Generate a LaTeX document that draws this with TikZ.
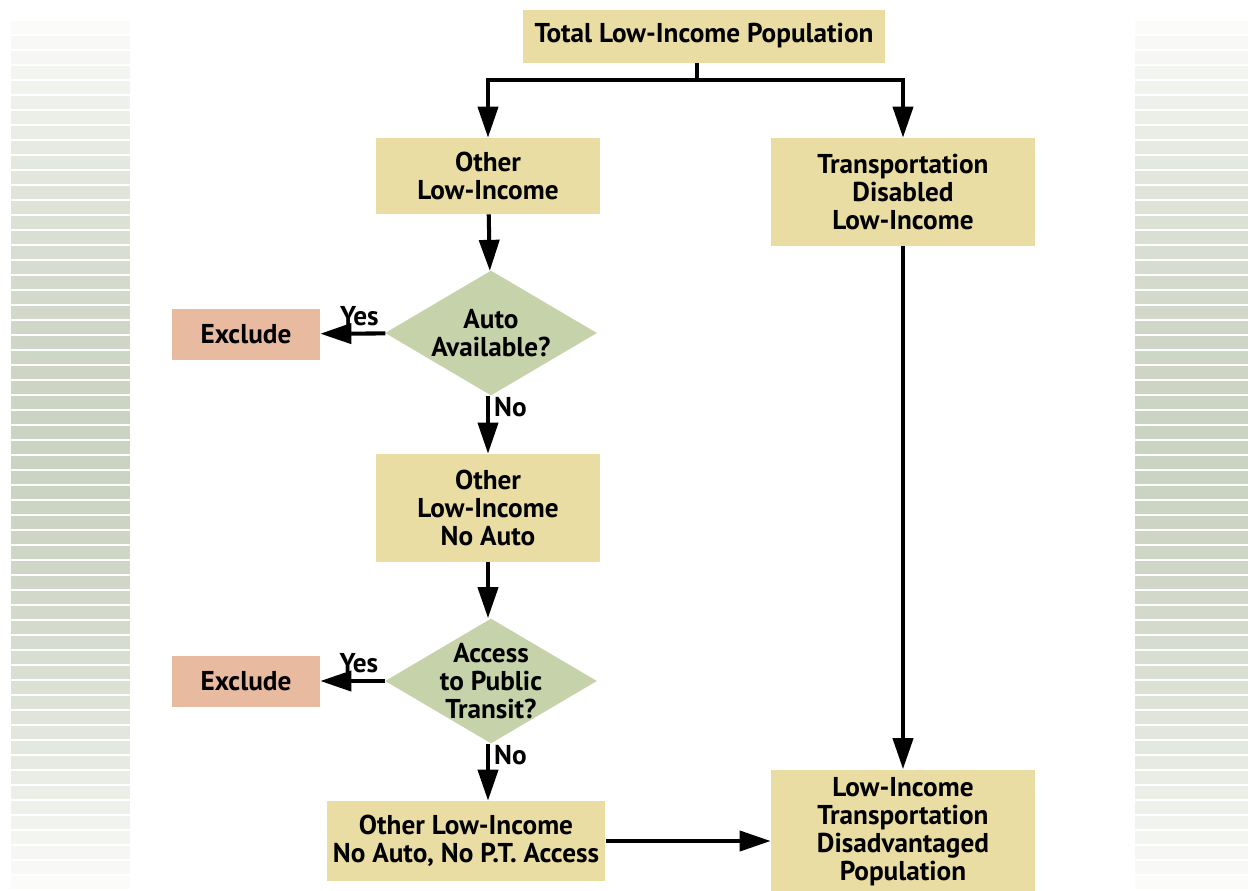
\documentclass[tikz,border=0pt]{standalone}
\usepackage{fontspec}
\setmainfont{PT Sans}
\usetikzlibrary{arrows.meta,shapes.geometric}
\definecolor{boxtan}{RGB}{233,221,164}
\definecolor{diagreen}{RGB}{198,211,170}
\definecolor{exsalmon}{RGB}{232,186,160}
\definecolor{stripe}{RGB}{203,211,194}
\begin{document}
\begin{tikzpicture}[x=0.02cm,y=-0.02cm,
  font=\bfseries\fontsize{15.5}{16}\selectfont,
  box/.style={fill=boxtan,align=center,inner sep=0pt},
  decide/.style={diamond,fill=diagreen,align=center,inner sep=-0.6cm,
    minimum width=4.24cm,minimum height=2.5cm},
  excl/.style={fill=exsalmon,align=center,inner sep=0pt,
    minimum width=2.96cm,minimum height=1.02cm},
  flow/.style={line width=2.3pt,-{Triangle[length=0.62cm,width=0.4cm]}}]
  \useasboundingbox (0,0) rectangle (1248,890);
  % striped side bands
  \foreach \i in {0,...,57} {
    \pgfmathsetmacro{\pct}{int(8+92*sin(180*\i/57))}
    \fill[stripe!\pct!white] (11,21+15*\i) rectangle (130,34+15*\i);
    \fill[stripe!\pct!white] (1135,21+15*\i) rectangle (1248,34+15*\i);
  }
  % boxes
  \node[box,minimum width=7.24cm,minimum height=1.06cm] (total) at (704,36) {Total Low-Income Population};
  \node[box,minimum width=4.5cm,minimum height=1.52cm] (other) at (488,176) {Other\\Low-Income};
  \node[box,minimum width=5.28cm,minimum height=2.16cm] (disabled) at (903,192) {Transportation\\Disabled\\Low-Income};
  \node[decide] (auto) at (491,333) {Auto\\Available?};
  \node[excl] (excl1) at (246,334) {Exclude};
  \node[box,minimum width=4.5cm,minimum height=2.16cm] (noauto) at (488,508) {Other\\Low-Income\\No Auto};
  \node[decide] (transit) at (491,681) {Access\\to Public\\Transit?};
  \node[excl] (excl2) at (246,681) {Exclude};
  \node[box,minimum width=5.58cm,minimum height=1.6cm] (nopt) at (466,841) {Other Low-Income\\No Auto, No P.T. Access};
  \node[box,minimum width=5.28cm,minimum height=2.5cm] (disadv) at (903,832) {Low-Income\\Transportation\\Disadvantaged\\Population};
  % connectors
  \coordinate (split) at (697,80);
  \draw[line width=2.3pt] (total.south -| split) -- (split);
  \draw[flow] (split) -| (other.north);
  \draw[flow] (split) -| (disabled.north);
  \draw[flow] (other) -- (auto);
  \draw[flow] (auto) -- node[above,pos=0.4] (yes1) {Yes} (excl1);
  \draw[flow] (auto.south -| other) -- node[right,pos=0.2,xshift=-1pt] (no1) {No} (noauto);
  \draw[flow] (noauto) -- (transit.north -| noauto);
  \draw[flow] (transit) -- node[above,pos=0.4] (yes2) {Yes} (excl2);
  \draw[flow] (transit.south -| other) -- node[right,pos=0.2,xshift=-1pt] (no2) {No} (nopt.north -| other);
  \draw[flow] (disabled) -- (disadv);
  \draw[flow] (nopt) -- (disadv.west |- nopt);
\end{tikzpicture}
\end{document}
